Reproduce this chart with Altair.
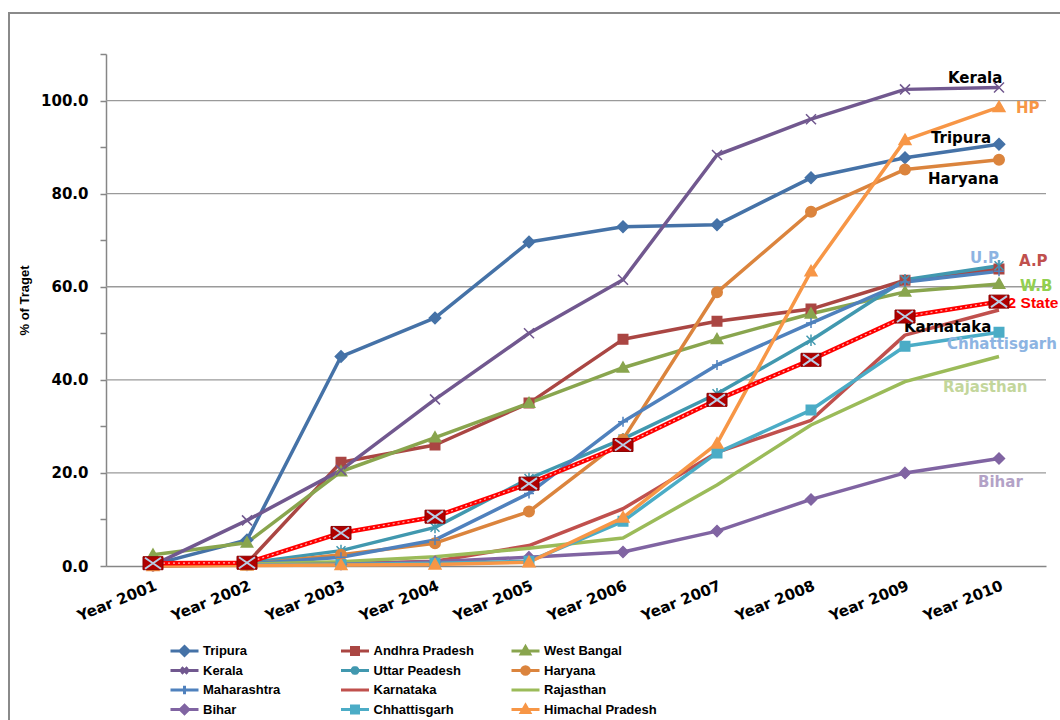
import altair as alt
import pandas as pd

# Category axis
years = ["Year 2001", "Year 2002", "Year 2003", "Year 2004", "Year 2005",
         "Year 2006", "Year 2007", "Year 2008", "Year 2009", "Year 2010"]

# Progress (% of target) per state
tripura = [0.3, 5.6, 45.0, 53.3, 69.6, 72.9, 73.3, 83.4, 87.7, 90.6]
andhra_pradesh = [0.2, 0.6, 22.3, 26.0, 35.0, 48.7, 52.6, 55.2, 61.4, 63.8]
west_bangal = [2.4, 5.0, 20.3, 27.6, 35.0, 42.6, 48.7, 54.2, 58.9, 60.6]
kerala = [0.2, 9.8, 20.6, 35.8, 50.0, 61.5, 88.3, 96.0, 102.4, 102.8]
uttar_peadesh = [0.2, 0.6, 3.3, 8.3, 18.8, 27.3, 37.0, 48.5, 61.5, 64.5]
haryana = [0.1, 0.3, 2.4, 4.9, 11.7, 27.2, 58.8, 76.1, 85.2, 87.3]
maharashtra = [0.1, 0.4, 1.9, 5.6, 15.6, 31.0, 43.2, 52.2, 61.0, 63.3]
karnataka = [0.0, 0.2, 0.5, 1.0, 4.4, 12.3, 24.4, 31.3, 49.6, 55.0]
rajasthan = [0.1, 0.4, 0.9, 2.0, 3.8, 6.0, 17.4, 30.3, 39.6, 45.0]
bihar = [0.1, 0.2, 0.4, 0.9, 1.9, 3.0, 7.5, 14.3, 20.0, 23.1]
chhattisgarh = [0.1, 0.2, 0.3, 0.6, 1.0, 9.6, 24.3, 33.5, 47.2, 50.2]
himachal_pradesh = [0.0, 0.1, 0.2, 0.3, 0.8, 10.4, 26.3, 63.3, 91.5, 98.6]
twelve_state = [0.6, 0.7, 7.1, 10.6, 17.7, 26.0, 35.7, 44.3, 53.6, 56.8]

series_names = ["Tripura", "Andhra Pradesh", "West Bangal", "Kerala",
                "Uttar Peadesh", "Haryana", "Maharashtra", "Karnataka",
                "Rajasthan", "Bihar", "Chhattisgarh", "Himachal Pradesh"]
series_values = [tripura, andhra_pradesh, west_bangal, kerala, uttar_peadesh,
                 haryana, maharashtra, karnataka, rajasthan, bihar,
                 chhattisgarh, himachal_pradesh]

# Styling per series
colors = ["#4572A7", "#AA4643", "#89A54E", "#71588F", "#4198AF", "#DB843D",
          "#4F81BD", "#C0504D", "#9BBB59", "#8064A2", "#4BACC6", "#F79646"]

DIAMOND = "M0,-1L1,0L0,1L-1,0Z"
SQUARE = "M-1,-1H1V1H-1Z"
TRIANGLE = "M0,-1L1,0.75H-1Z"
XMARK = "M-1,-1L1,1M-1,1L1,-1"
STAR = "M-1,-1L1,1M-1,1L1,-1M0,-1.3V1.3"
PLUS = "M-1,0H1M0,-1V1"
markers = [DIAMOND, SQUARE, TRIANGLE, XMARK, STAR, "circle", PLUS, None, None,
           DIAMOND, SQUARE, TRIANGLE]
marker_sizes = [130, 90, 130, 100, 80, 110, 100, 0, 0, 120, 90, 140]

# Legend glyphs: a line running from the symbol's left edge, marker in its middle
LINE = "M-1,0H3"
legend_shapes = [
    LINE + "M1,-0.64L1.64,0L1,0.64L0.36,0Z",
    LINE + "M0.5,-0.5H1.5V0.5H0.5Z",
    LINE + "M1,-0.6L1.6,0.44H0.4Z",
    LINE + "M0.56,-0.44L1.44,0.44M0.56,0.44L1.44,-0.44",
    LINE + "M0.56,-0.44L1.44,0.44M0.56,0.44L1.44,-0.44M1,-0.6V0.6",
    LINE + "M1.54,0A0.54,0.54,0,1,1,0.46,0A0.54,0.54,0,1,1,1.54,0Z",
    LINE + "M1,-0.6V0.6",
    LINE,
    LINE,
    LINE + "M1,-0.6L1.6,0L1,0.6L0.4,0Z",
    LINE + "M0.5,-0.5H1.5V0.5H0.5Z",
    LINE + "M1,-0.6L1.6,0.44H0.4Z",
]

WIDE_FONT = "DejaVu Sans"
ARIAL = "Liberation Sans"

# Text labels next to the 2010 end points: (text, series, colour, dx, dy, font, size)
end_labels = [
    ("Kerala", "Kerala", "#000000", -51, -10, WIDE_FONT, 15),
    ("HP", "Himachal Pradesh", "#F79646", 17, 0.5, WIDE_FONT, 15),
    ("Tripura", "Tripura", "#000000", -68, -6, WIDE_FONT, 15),
    ("Haryana", "Haryana", "#000000", -71, 19, WIDE_FONT, 15),
    ("U.P.", "Uttar Peadesh", "#8DB4E2", -29, -8, WIDE_FONT, 15),
    ("A.P", "Andhra Pradesh", "#C0504D", 20, -8, WIDE_FONT, 15),
    ("W.B", "West Bangal", "#92D050", 21, 2, WIDE_FONT, 15),
    ("12 State", "12 State", "#FF0000", 0, 1.5, ARIAL, 15.5),
    ("Karnataka", "Karnataka", "#000000", -95, 16.5, WIDE_FONT, 15),
    ("Chhattisgarh", "Chhattisgarh", "#8DB4E2", -52, 12, WIDE_FONT, 15),
    ("Rajasthan", "Rajasthan", "#C3D69B", -56, 30, WIDE_FONT, 15),
    ("Bihar", "Bihar", "#B3A2C7", -21, 23.5, WIDE_FONT, 15),
]

AXIS_GRAY = "#868686"

rows = []
for i, (name, vals) in enumerate(zip(series_names, series_values)):
    for yr, v in zip(years, vals):
        rows.append({"series": name, "order": i, "year": yr, "value": v,
                     "color": colors[i], "shape": markers[i] or "circle",
                     "msize": marker_sizes[i], "has_marker": markers[i] is not None})
df = pd.DataFrame(rows)
df_state = pd.DataFrame({"year": years, "value": twelve_state})

x_enc = alt.X(
    "year:N",
    scale=alt.Scale(type="point", domain=years, padding=0.5),
    axis=alt.Axis(title=None, ticks=False, grid=False, domainColor=AXIS_GRAY,
                  domainWidth=1.5, labelAngle=338, labelAlign="right",
                  labelBaseline="top", labelPadding=12, labelFont=WIDE_FONT,
                  labelFontSize=15, labelFontWeight="bold", labelColor="#000000",
                  labelOverlap=False),
)
y_scale = alt.Scale(domain=[0, 110], nice=False, zero=True)
y_enc = alt.Y(
    "value:Q",
    scale=y_scale,
    axis=alt.Axis(values=list(range(0, 111, 10)), grid=False,
                  labelExpr="datum.value % 20 == 0 ? format(datum.value, '.1f') : ''",
                  domainColor=AXIS_GRAY, domainWidth=1.5, tickColor=AXIS_GRAY,
                  tickWidth=1.5, tickSize=6, labelPadding=12, labelFont=WIDE_FONT,
                  labelFontSize=15, labelFontWeight="bold", labelColor="#000000",
                  title="% of Traget", titleFont=ARIAL, titleFontSize=13,
                  titleFontWeight="bold", titleColor="#000000", titleAngle=270,
                  titleX=-82, titleY=246, titleAlign="center",
                  titleBaseline="middle"),
)

# Outer frame around the whole chart
frame = alt.Chart(alt.Data(values=[{}])).mark_rect(
    filled=False, stroke="#8A8A8A", strokeWidth=2
).encode(x=alt.value(-97), x2=alt.value(1070), y=alt.value(-41), y2=alt.value(720))

grid = alt.Chart(pd.DataFrame({"value": [20, 40, 60, 80, 100]})).mark_rule(
    color="#9A9A9A", strokeWidth=1.3
).encode(y=y_enc)

lines = alt.Chart(df).mark_line(strokeWidth=3.5, strokeJoin="round").encode(
    x=x_enc, y=y_enc, detail="series:N",
    stroke=alt.Stroke("color:N", scale=None),
)

state_line = alt.Chart(df_state).mark_line(
    color="#FF0000", strokeWidth=4.5, strokeJoin="round"
).encode(x=x_enc, y=y_enc)
state_dash = alt.Chart(df_state).mark_line(
    color="#FFFFFF", strokeWidth=1.2, strokeDash=[2, 3], opacity=0.7
).encode(x=x_enc, y=y_enc)

end_values = dict(zip(series_names, [v[-1] for v in series_values]))
end_values["12 State"] = twelve_state[-1]
label_layers = []
for text, key, col, dx, dy, font, fsize in end_labels:
    label_layers.append(
        alt.Chart(pd.DataFrame({"year": [years[-1]], "value": [end_values[key]],
                                "label": [text]}))
        .mark_text(align="left", baseline="middle", dx=dx, dy=dy, font=font,
                   fontSize=fsize, fontWeight="bold", color=col)
        .encode(x=x_enc, y=y_enc, text="label:N")
    )

points = alt.Chart(df).transform_filter("datum.has_marker").mark_point(
    filled=True, opacity=1, strokeWidth=1.5
).encode(
    x=x_enc, y=y_enc,
    shape=alt.Shape("shape:N", scale=None),
    fill=alt.Fill("color:N", scale=None),
    stroke=alt.Stroke("color:N", scale=None),
    size=alt.Size("msize:Q", scale=None),
)

state_points = alt.Chart(df_state).mark_point(
    filled=True, opacity=1, shape="M-1,-0.65H1V0.65H-1Z", size=400,
    fill="#B00000", stroke="#8B0000", strokeWidth=1
).encode(x=x_enc, y=y_enc)
state_cross = alt.Chart(df_state).mark_point(
    filled=False, opacity=1, shape="M-0.8,-0.55L0.8,0.55M-0.8,0.55L0.8,-0.55",
    size=400, stroke="#B9CDE5", strokeWidth=2
).encode(x=x_enc, y=y_enc)

# Invisible carrier for the legend (line + marker glyphs)
legend_spec = alt.Legend(
    title=None, orient="none", legendX=63, legendY=589, direction="horizontal",
    columns=3, gridAlign="all", columnPadding=23.5, rowPadding=3.5,
    clipHeight=16,
    symbolSize=196, symbolStrokeWidth=3, symbolOpacity=1, labelOffset=17,
    labelFont=ARIAL, labelFontSize=13, labelFontWeight="bold",
    labelColor="#000000", labelLimit=300,
)
legend_df = pd.DataFrame({"series": series_names, "year": [years[0]] * 12,
                          "value": [0] * 12})
legend_layer = alt.Chart(legend_df).mark_point(opacity=0).encode(
    x=x_enc, y=y_enc,
    shape=alt.Shape("series:N", scale=alt.Scale(domain=series_names, range=legend_shapes),
                    legend=legend_spec),
    fill=alt.Fill("series:N", scale=alt.Scale(domain=series_names, range=colors),
                  legend=legend_spec),
    stroke=alt.Stroke("series:N", scale=alt.Scale(domain=series_names, range=colors),
                      legend=legend_spec),
)

chart = alt.layer(
    frame, grid, lines, state_line, state_dash, *label_layers,
    points, state_points, state_cross, legend_layer,
).properties(
    width=940, height=512,
    autosize=alt.AutoSizeParams(type="none"),
    padding={"left": 106, "top": 54, "right": 14, "bottom": 154},
    background="#FFFFFF",
).configure_view(strokeWidth=0)

chart.save("out.html", embed_options={"renderer": "svg", "actions": False})
